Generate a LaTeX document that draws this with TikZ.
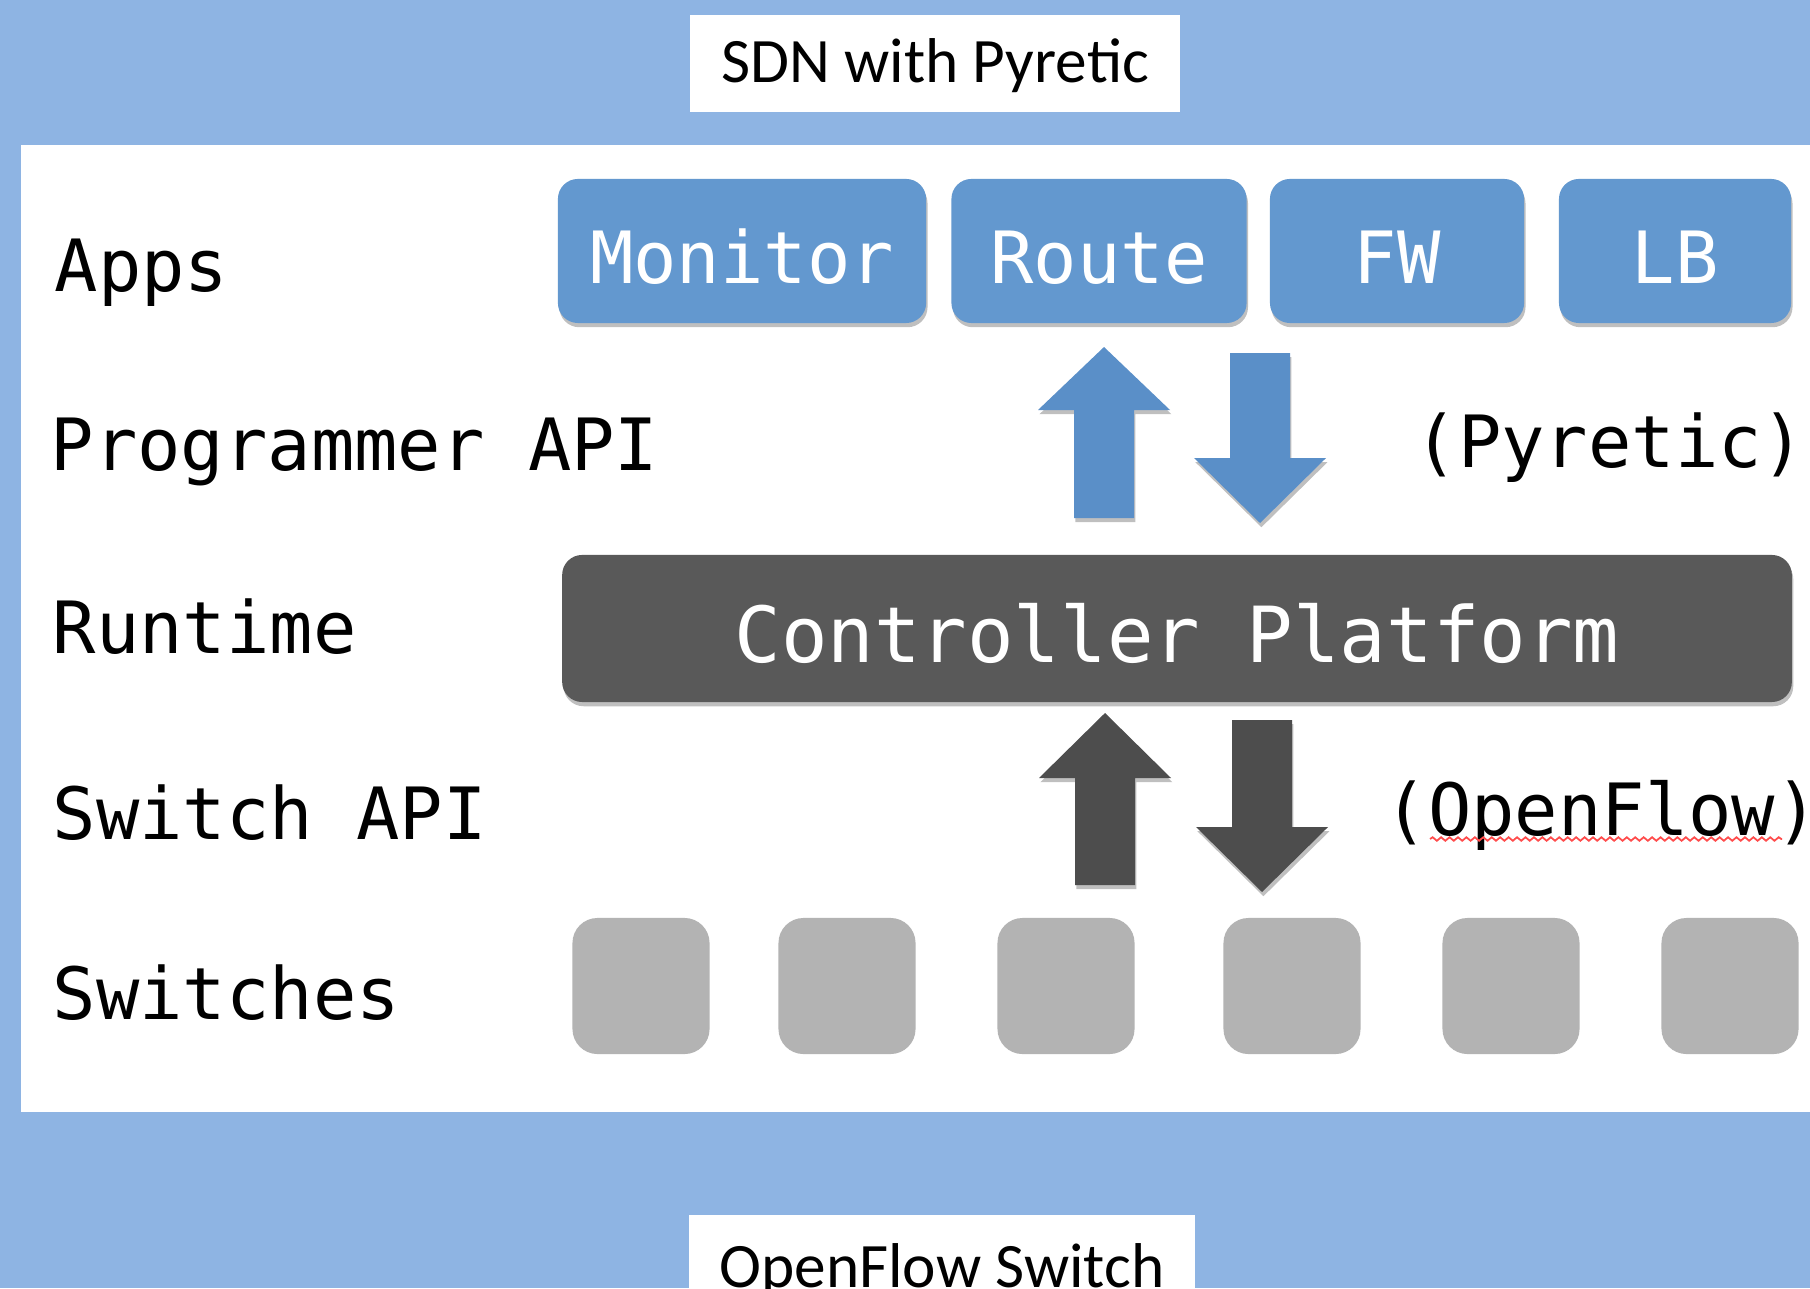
\documentclass[tikz,border=0pt]{standalone}
\usepackage{fontspec}
\usetikzlibrary{shadows,decorations.pathmorphing}

\newfontfamily\layerfont{DejaVu Sans Mono}
\newfontfamily\captionfont{Carlito}

\definecolor{bgblue}{HTML}{8EB4E3}
\definecolor{appblue}{HTML}{6398CF}
\definecolor{arrowblue}{HTML}{5A8FC8}
\definecolor{ctrlgray}{HTML}{595959}
\definecolor{arrowgray}{HTML}{4D4D4D}
\definecolor{switchgray}{HTML}{B3B3B3}

\tikzset{
  softshadow/.style={drop shadow={shadow xshift=0.4pt, shadow yshift=-1.2pt, opacity=0.25, fill=black}},
  layer/.style={anchor=base west, inner sep=0pt, font=\layerfont\fontsize{20.5pt}{24pt}\selectfont},
  caption/.style={anchor=base, fill=white, inner sep=0pt, font=\captionfont\fontsize{18pt}{22pt}\selectfont},
  appbox/.style={anchor=base, fill=appblue, rounded corners=0.2cm, inner sep=0pt,
    text height=1.04cm, text depth=0.4cm, text=white, softshadow,
    font=\layerfont\fontsize{20.5pt}{24pt}\selectfont},
  ctrlbox/.style={appbox, fill=ctrlgray, font=\layerfont\fontsize{22pt}{26pt}\selectfont},
  switchbox/.style={fill=switchgray, rounded corners=0.25cm, minimum width=1.37cm,
    minimum height=1.36cm, inner sep=0pt},
}

% block arrow: colour, centre x, tail y, head base y, tip y
\newcommand{\blockarrow}[5]{%
  \fill[#1, softshadow] ({#2-30},#3) -- ({#2+30},#3) -- ({#2+30},#4) -- ({#2+66},#4)
    -- (#2,#5) -- ({#2-66},#4) -- ({#2-30},#4) -- cycle;}

\begin{document}
\begin{tikzpicture}[x=0.01cm, y=-0.01cm]
	\useasboundingbox (0,0) rectangle (1810,1288);
	
	% Background and white panel
	\fill[bgblue] (0,0) rectangle (1810,1288);
	\fill[white] (21,145) rectangle (1810,1112);
	
	% Captions
	\node[caption, minimum width=4.9cm, text height=0.68cm, text depth=0.29cm] (title) at (935,83) {SDN with Pyretic};
	\node[caption, minimum width=5.05cm, text height=0.72cm, text depth=0.3cm] (bottom) at (942,1287) {OpenFlow Switch};
	
	% Layer names on the left
	\node[layer] (apps) at (54,291) {Apps};
	\node[layer] (progapi) at (50,470) {Programmer API};
	\node[layer] (runtime) at (52,653) {Runtime};
	\node[layer] (swapi) at (52,839) {Switch API};
	\node[layer] (switches) at (52,1019) {Switches};
	
	% Applications
	\node[appbox, minimum width=3.68cm] (monitor) at (742,283) {Monitor};
	\node[appbox, minimum width=2.95cm] (route) at (1099,283) {Route};
	\node[appbox, minimum width=2.54cm] (fw) at (1397,283) {FW};
	\node[appbox, minimum width=2.32cm] (lb) at (1675,283) {LB};
	
	% Controller
	\node[ctrlbox, minimum width=12.29cm, text height=1.07cm] (ctrl) at (1177,662) {Controller Platform};
	
	% Switches
	\foreach \x [count=\i] in {641,847,1066,1292,1511,1730} {
		\node[switchbox] (sw\i) at (\x,986) {};
	}
	
	% Arrows between the layers
	\blockarrow{arrowblue}{1104}{518}{410}{347}
	\blockarrow{arrowblue}{1260}{353}{458}{523}
	\blockarrow{arrowgray}{1105}{885}{778}{713}
	\blockarrow{arrowgray}{1262}{720}{827}{892}
	
	% Interface names
	\node[layer] (pyretic) at (1414,467) {(Pyretic)};
	\node[layer] (openflow) at (1384,835) {(OpenFlow)};
	\draw[red!70, line width=0.5pt, decorate, decoration={snake, amplitude=0.5pt, segment length=2.4pt}] (1430,839) -- (1782,839);
	
\end{tikzpicture}
\end{document}
